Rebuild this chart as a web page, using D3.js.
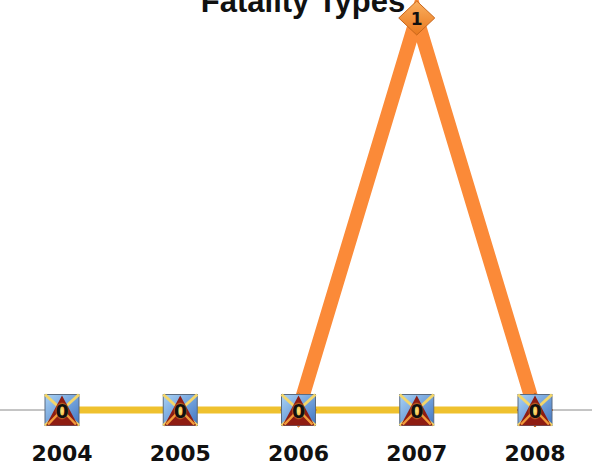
<!DOCTYPE html>
<html><head><meta charset="utf-8">
<script src="https://cdn.jsdelivr.net/npm/d3@7"></script>
<style>html,body{margin:0;padding:0;background:#fff;overflow:hidden}</style>
</head><body>
<svg id="c" width="592" height="465"></svg>
<script>
const years = ["2004","2005","2006","2007","2008"];
const seriesIconValues = [0,0,0,0,0];
const seriesDiamondValues = [null,null,0,1,0];
const title = "Fatality Types";

const svg = d3.select("#c");
const x = d3.scalePoint().domain(years).range([62,535]);
const y = d3.scaleLinear().domain([0,1]).range([410,18]);

const defs = svg.append("defs");
const bg = defs.append("linearGradient").attr("id","bg").attr("x1","0").attr("y1","0").attr("x2","1").attr("y2","1");
bg.append("stop").attr("offset","0").attr("stop-color","#a9d2f5");
bg.append("stop").attr("offset","1").attr("stop-color","#3f74c2");
const dg = defs.append("linearGradient").attr("id","dg").attr("x1","0").attr("y1","0").attr("x2","0").attr("y2","1");
dg.append("stop").attr("offset","0").attr("stop-color","#fbb060");
dg.append("stop").attr("offset","1").attr("stop-color","#e8781e");
const rg = defs.append("radialGradient").attr("id","glow");
rg.append("stop").attr("offset","0").attr("stop-color","#ffe27a");
rg.append("stop").attr("offset","0.6").attr("stop-color","#f2b33a");
rg.append("stop").attr("offset","1").attr("stop-color","#f2b33a").attr("stop-opacity",0);

// title
svg.append("text").attr("x",303).attr("y",12).attr("text-anchor","middle")
  .attr("font-family","Liberation Sans, Arial, sans-serif").attr("font-weight","bold")
  .attr("font-size",31).attr("fill","#111").text(title);

// axis line
svg.append("line").attr("x1",0).attr("x2",592).attr("y1",y(0)).attr("y2",y(0))
  .attr("stroke","#8a8a8a").attr("stroke-width",1);

// year labels
svg.selectAll("text.yr").data(years).join("text").attr("class","yr")
  .attr("x",d=>x(d)).attr("y",461).attr("text-anchor","middle")
  .attr("font-family","DejaVu Sans, Verdana, sans-serif").attr("font-weight","bold")
  .attr("font-size",22).attr("fill","#111").text(d=>d);

const line = d3.line().defined(d=>d!==null).x((d,i)=>x(years[i])).y(d=>y(d));
svg.append("path").attr("d",line(seriesDiamondValues)).attr("fill","none")
  .attr("stroke","#fb8a38").attr("stroke-width",14).attr("stroke-linejoin","miter").attr("stroke-miterlimit",20);
svg.append("path").attr("d",line(seriesIconValues)).attr("fill","none")
  .attr("stroke","#efc12e").attr("stroke-width",7);

// diamond markers
const dm = svg.selectAll("g.dm").data(seriesDiamondValues.map((v,i)=>({v,i})).filter(d=>d.v!==null)).join("g").attr("class","dm")
  .attr("transform",d=>`translate(${x(years[d.i])},${y(d.v)})`);
dm.append("path").attr("d","M0,-17L18,0L0,17L-18,0Z").attr("fill","url(#dg)")
  .attr("stroke","#c8661a").attr("stroke-width",1);
dm.append("text").attr("y",7).attr("text-anchor","middle")
  .attr("font-family","DejaVu Sans, sans-serif").attr("font-weight","bold")
  .attr("font-size",17).attr("fill","#111").text(d=>d.v);

// icon markers
const w=34,h=31;
const ic = svg.selectAll("g.ic").data(seriesIconValues).join("g").attr("class","ic")
  .attr("transform",(d,i)=>`translate(${x(years[i])},${y(d)})`);
ic.append("rect").attr("x",-w/2).attr("y",-h/2).attr("width",w).attr("height",h)
  .attr("fill","url(#bg)").attr("stroke","#5a6b80").attr("stroke-width",1);
ic.append("path").attr("d",`M${-w/2},${-h/2}L${w/2},${h/2}M${w/2},${-h/2}L${-w/2},${h/2}`)
  .attr("stroke","#f3d66a").attr("stroke-width",3);
ic.append("path").attr("d",`M0,${-h/2+1}L${w/2-1},${h/2}L${-w/2+1},${h/2}Z`).attr("fill","#8e1c12");
ic.append("path").attr("d",`M-3,3L${-w/2+3},${h/2-1}M3,3L${w/2-3},${h/2-1}`)
  .attr("stroke","#f29a3a").attr("stroke-width",2.5);
ic.append("ellipse").attr("cx",0).attr("cy",1).attr("rx",7).attr("ry",9).attr("fill","url(#glow)");
ic.append("text").attr("y",8).attr("text-anchor","middle")
  .attr("font-family","DejaVu Sans, sans-serif").attr("font-weight","bold")
  .attr("font-size",19).attr("fill","#111").text(d=>d);
</script>
</body></html>
